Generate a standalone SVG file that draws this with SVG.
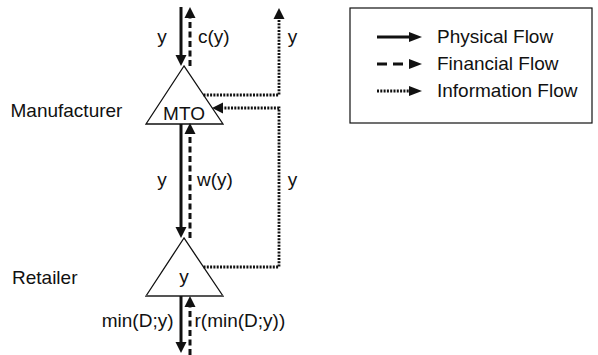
<svg xmlns="http://www.w3.org/2000/svg" width="598" height="355" viewBox="0 0 598 355">
<defs>
<style>
text{font-family:"Liberation Sans",Arial,sans-serif;font-size:19px;fill:#111}
.tri{fill:#fff;stroke:#111;stroke-width:1.3}
.phys{stroke:#111;stroke-width:3;fill:none}
.fin{stroke:#111;stroke-width:3;fill:none;stroke-dasharray:6 3.5}
.info{stroke:#111;stroke-width:2.8;fill:none;stroke-dasharray:2 1.3}
.head{fill:#111}
</style>
</defs>
<rect width="598" height="355" fill="#fff"/>
<g id="manufacturer">
<polygon class="tri" points="184,66 146,124 223,124"/>
<text x="184" y="120" text-anchor="middle">MTO</text>
<text x="10.5" y="117">Manufacturer</text>
</g>
<g id="retailer">
<polygon class="tri" points="184,238 146,296 223,296"/>
<line x1="146" y1="296" x2="223" y2="296" stroke="#555" stroke-width="2"/>
<text x="184" y="283" text-anchor="middle">y</text>
<text x="12" y="284">Retailer</text>
</g>
<g id="connectors">
<line class="phys" x1="181" y1="7" x2="181" y2="56"/>
<polygon class="head" points="175.5,55 186.5,55 181,66"/>
<line class="fin" x1="190" y1="66" x2="190" y2="17"/>
<polygon class="head" points="184.5,18 195.5,18 190,7"/>
<line class="phys" x1="181" y1="124" x2="181" y2="228"/>
<polygon class="head" points="175.5,227 186.5,227 181,238"/>
<line class="fin" x1="190" y1="238" x2="190" y2="134"/>
<polygon class="head" points="184.5,134 195.5,134 190,123"/>
<line class="phys" x1="181" y1="296" x2="181" y2="343"/>
<polygon class="head" points="175.5,342 186.5,342 181,353"/>
<line class="fin" x1="190" y1="355" x2="190" y2="306"/>
<polygon class="head" points="184.5,307 195.5,307 190,296"/>
<polyline class="info" points="203.5,95 279,95 279,19"/>
<polygon class="head" points="273.5,19 284.5,19 279,8"/>
<polyline class="info" points="203.5,267 279,267 279,108 222,108"/>
<polygon class="head" points="223,102.5 223,113.5 212,108"/>
<text x="162" y="43" text-anchor="middle">y</text>
<text x="198" y="43">c(y)</text>
<text x="292.5" y="43" text-anchor="middle">y</text>
<text x="162" y="186" text-anchor="middle">y</text>
<text x="197" y="186">w(y)</text>
<text x="292.5" y="186" text-anchor="middle">y</text>
<text x="173.5" y="327" text-anchor="end">min(D;y)</text>
<text x="194.5" y="327">r(min(D;y))</text>
</g>
<g id="legend">
<rect x="350" y="8" width="242" height="115" fill="none" stroke="#111" stroke-width="1.2"/>
<line class="phys" x1="377" y1="37" x2="410" y2="37"/>
<polygon class="head" points="409,32 409,42 422,37"/>
<text x="437" y="43">Physical Flow</text>
<line class="fin" x1="377" y1="64" x2="404" y2="64" style="stroke-dasharray:10 6"/>
<polygon class="head" points="409,59 409,69 422,64"/>
<text x="437" y="70">Financial Flow</text>
<line class="info" x1="377" y1="91" x2="410" y2="91"/>
<polygon class="head" points="409,86 409,96 422,91"/>
<text x="437" y="97">Information Flow</text>
</g>
</svg>
